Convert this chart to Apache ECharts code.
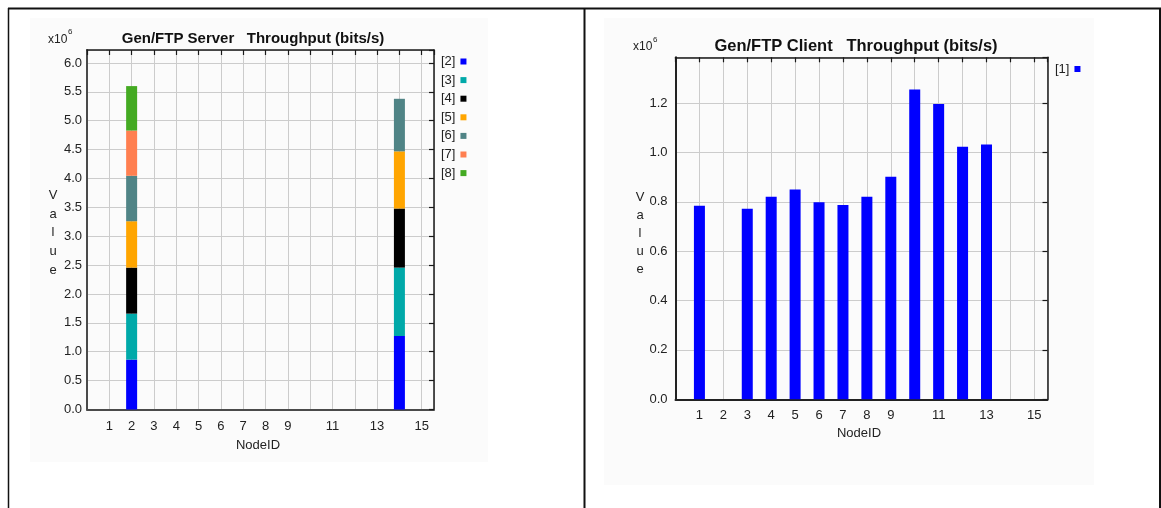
<!DOCTYPE html>
<html>
<head>
<meta charset="utf-8">
<script src="https://cdn.jsdelivr.net/npm/echarts@6/dist/echarts.min.js"></script>
<style>
  html, body { margin: 0; padding: 0; background: #ffffff; }
  #chart { width: 1161px; height: 508px; }
</style>
</head>
<body>
<div id="chart"></div>
<script>
// ---- Gen/FTP server throughput (bits/s), stacked per client node ----
const serverNodes = [2, 14];
const serverSeriesNames = ['[2]', '[3]', '[4]', '[5]', '[6]', '[7]', '[8]'];
const serverColors = ['#0000ff', '#00a9a9', '#000000', '#ffa500', '#508486', '#ff7f50', '#44aa22'];
const server2 = [864000, 796000, 797000, 803000, 787000, 783000, 770000];
const server3 = [1273000, 1184000, 1023000, 990000, 910000, 0, 0];
const serverValues = [server2, server3];

// ---- Gen/FTP client throughput (bits/s) ----
const clientNodes = [1, 3, 4, 5, 6, 7, 8, 9, 10, 11, 12, 13];
const clientValues = [784000, 772000, 820000, 850000, 798000, 787000, 820000, 901000, 1255000, 1196000, 1023000, 1032000];
const clientSeriesName = '[1]';

// tick labels shown along NodeID
const nodeTickLabels = [1, 2, 3, 4, 5, 6, 7, 8, 9, 11, 13, 15];

const FONT = 'Liberation Sans, Arial, sans-serif';
const SCALE = 1e6;
const BAR_W = 11;

function valueLabel(step) {
  return function (v) {
    const k = v / step;
    if (Math.abs(k - Math.round(k)) > 1e-6) return '';
    return (v / SCALE).toFixed(1);
  };
}
function nodeLabel(v) {
  return nodeTickLabels.indexOf(v) >= 0 ? String(v) : '';
}

const X_MAX = 15.55;
const grids = [
  { left: 87, top: 50, width: 347, height: 359.5 },
  { left: 675.5, top: 57.3, width: 372, height: 342 }
];
const yRanges = [
  { max: 6.225e6, interval: 0.5e6 },
  { max: 1.385e6, interval: 0.2e6 }
];

const xAxes = [];
const yAxes = [];
[0, 1].forEach(function (g) {
  const axisDark = g === 0 ? '#4a4a4a' : '#222222';
  xAxes.push({
    type: 'value', gridIndex: g, position: 'bottom', min: 0, max: X_MAX, interval: 1,
    axisLine: { show: true, onZero: false, lineStyle: { color: axisDark, width: 2 } },
    axisTick: { show: false },
    axisLabel: { formatter: nodeLabel, color: '#222', fontFamily: FONT, fontSize: 13, margin: 10, showMaxLabel: false },
    splitLine: { show: true, lineStyle: { color: '#cccccc', width: 1 } }
  });
  xAxes.push({
    type: 'value', gridIndex: g, position: 'top', min: 0, max: X_MAX, interval: 1,
    axisLine: { show: true, onZero: false, lineStyle: { color: '#1a1a1a', width: 1.5 } },
    axisTick: { show: true, inside: true, length: 5, lineStyle: { color: '#1a1a1a', width: 1.2 } },
    axisLabel: { show: false },
    splitLine: { show: false }
  });
  const yr = yRanges[g];
  yAxes.push({
    type: 'value', gridIndex: g, position: 'left', min: 0, max: yr.max, interval: yr.interval,
    axisLine: { show: true, onZero: false, lineStyle: { color: axisDark, width: 2 } },
    axisTick: { show: false },
    axisLabel: { formatter: valueLabel(yr.interval), color: '#222', fontFamily: FONT, fontSize: 13, margin: g === 0 ? 5 : 8, showMaxLabel: false },
    splitLine: { show: true, lineStyle: { color: '#cccccc', width: 1 } }
  });
  yAxes.push({
    type: 'value', gridIndex: g, position: 'right', min: 0, max: yr.max, interval: yr.interval,
    axisLine: { show: true, onZero: false, lineStyle: { color: '#1a1a1a', width: 1.5 } },
    axisTick: { show: true, inside: true, length: 5, lineStyle: { color: '#1a1a1a', width: 1.2 } },
    axisLabel: { show: false },
    splitLine: { show: false }
  });
});

// Stacked segment: each item is [node, base, top]; drawn through the axis scales.
function segmentRenderer(color) {
  return function (params, api) {
    const x = api.value(0), base = api.value(1), top = api.value(2);
    if (!(top > base)) return null;
    const p0 = api.coord([x, base]);
    const p1 = api.coord([x, top]);
    return {
      type: 'rect',
      shape: { x: p0[0] - BAR_W / 2, y: p1[1], width: BAR_W, height: p0[1] - p1[1] },
      style: { fill: color }
    };
  };
}

const series = serverSeriesNames.map(function (name, i) {
  return {
    name: name, type: 'custom', xAxisIndex: 0, yAxisIndex: 0,
    itemStyle: { color: serverColors[i] },
    encode: { x: 0, y: [1, 2] },
    renderItem: segmentRenderer(serverColors[i]),
    data: serverNodes.map(function (n, k) {
      const vals = serverValues[k];
      let base = 0;
      for (let j = 0; j < i; j++) base += vals[j];
      return [n, base, base + vals[i]];
    })
  };
});
series.push({
  name: clientSeriesName, type: 'bar', xAxisIndex: 2, yAxisIndex: 2,
  barWidth: BAR_W, itemStyle: { color: '#0000ff' },
  data: clientNodes.map(function (n, k) { return [n, clientValues[k]]; })
});

function txt(x, y, text, extra) {
  return { type: 'text', x: x, y: y, silent: true,
    style: Object.assign({ text: text, font: '13px ' + FONT, fill: '#222', align: 'center', verticalAlign: 'middle' }, extra || {}) };
}

const graphics = [
  // panel backgrounds
  { type: 'rect', shape: { x: 30, y: 18, width: 458, height: 444 }, style: { fill: '#fbfbfb' }, z: -10, silent: true },
  { type: 'rect', shape: { x: 604, y: 18, width: 490, height: 467 }, style: { fill: '#fbfbfb' }, z: -10, silent: true },
  // outer frame
  { type: 'line', shape: { x1: 8, y1: 8.5, x2: 1161, y2: 8.5 }, style: { stroke: '#111', lineWidth: 2 }, silent: true },
  { type: 'line', shape: { x1: 8.5, y1: 8, x2: 8.5, y2: 508 }, style: { stroke: '#111', lineWidth: 1.5 }, silent: true },
  { type: 'line', shape: { x1: 584.5, y1: 8, x2: 584.5, y2: 508 }, style: { stroke: '#111', lineWidth: 2 }, silent: true },
  { type: 'line', shape: { x1: 1160, y1: 8, x2: 1160, y2: 508 }, style: { stroke: '#111', lineWidth: 2 }, silent: true },
  // titles
  txt(253, 39, 'Gen/FTP Server   Throughput (bits/s)', { font: 'bold 15px ' + FONT, fill: '#111' }),
  txt(856, 46.5, 'Gen/FTP Client   Throughput (bits/s)', { font: 'bold 16.5px ' + FONT, fill: '#111' }),
  // axis multipliers
  txt(48, 40, 'x10', { align: 'left', font: '12px ' + FONT }),
  txt(68, 32, '6', { align: 'left', font: '8px ' + FONT }),
  txt(633, 47, 'x10', { align: 'left', font: '12px ' + FONT }),
  txt(653, 40, '6', { align: 'left', font: '8px ' + FONT }),
  // vertical axis names
  txt(53, 186, 'V\na\nl\nu\ne', { verticalAlign: 'top', lineHeight: 18.75 }),
  txt(640, 188, 'V\na\nl\nu\ne', { verticalAlign: 'top', lineHeight: 18 }),
  // horizontal axis names
  txt(258, 445, 'NodeID'),
  txt(859, 433, 'NodeID')
];

const chart = echarts.init(document.getElementById('chart'), null, { renderer: 'canvas' });
chart.setOption({
  backgroundColor: '#ffffff',
  animation: false,
  grid: grids,
  xAxis: xAxes,
  yAxis: yAxes,
  legend: [
    {
      data: serverSeriesNames, orient: 'vertical', left: 441, top: 54.5, align: 'right',
      icon: 'rect', itemWidth: 6, itemHeight: 6, itemGap: 4.6, padding: 0,
      textStyle: { fontFamily: FONT, fontSize: 13, color: '#222', lineHeight: 14 },
      selectedMode: false
    },
    {
      data: [clientSeriesName], orient: 'vertical', left: 1055, top: 62, align: 'right',
      icon: 'rect', itemWidth: 6, itemHeight: 6, padding: 0,
      textStyle: { fontFamily: FONT, fontSize: 13, color: '#222', lineHeight: 14 },
      selectedMode: false
    }
  ],
  series: series,
  graphic: graphics
});
</script>
</body>
</html>
